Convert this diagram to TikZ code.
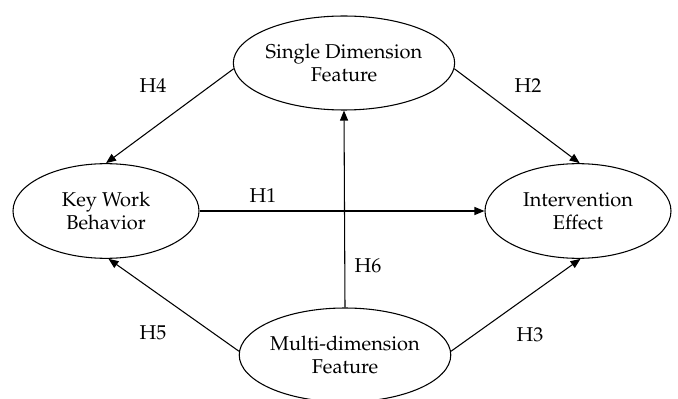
\documentclass[tikz,border=0pt]{standalone}
\usepackage[T1]{fontenc}
\renewcommand{\rmdefault}{ppl}
\usetikzlibrary{shapes.geometric,arrows.meta}
\begin{document}
\begin{tikzpicture}[x=0.75pt,y=-0.75pt,
        construct/.style={draw,ellipse,line width=0.8pt,inner sep=0pt,align=center,
            font=\fontsize{15}{17.5}\selectfont},
        wide/.style={minimum width=151.5pt,minimum height=70.5pt},
        narrow/.style={minimum width=139.5pt,minimum height=71pt},
        path/.style={line width=0.8pt,-{Triangle[length=7.5pt,width=6pt]}},
        hyp/.style={font=\fontsize{15}{17.5}\selectfont}]
    \useasboundingbox (0,0) rectangle (678,399);
    % the four constructs
    \node[construct,wide] (single) at (344,63) {Single Dimension\\Feature};
    \node[construct,narrow] (key) at (106,211) {Key Work\\Behavior};
    \node[construct,narrow] (inter) at (578,211) {Intervention\\Effect};
    \node[construct,wide] (multi) at (345,355) {Multi-dimension\\Feature};
    % hypothesised paths
    \draw[path] (single.183) -- (key.north);
    \draw[path] (single.-3) -- (inter.88);
    \draw[path] (key.east) -- (inter.west);
    \draw[path] (multi.north) -- (single.south);
    \draw[path] (multi.178) -- (key.-87);
    \draw[path] (multi.2) -- (inter.-87);
    % labels
    \node[hyp] (h4) at (153,86) {H4};
    \node[hyp] (h2) at (528,86) {H2};
    \node[hyp] (h1) at (263,196) {H1};
    \node[hyp] (h6) at (368,266) {H6};
    \node[hyp] (h5) at (153,333) {H5};
    \node[hyp] (h3) at (530,335) {H3};
\end{tikzpicture}
\end{document}
